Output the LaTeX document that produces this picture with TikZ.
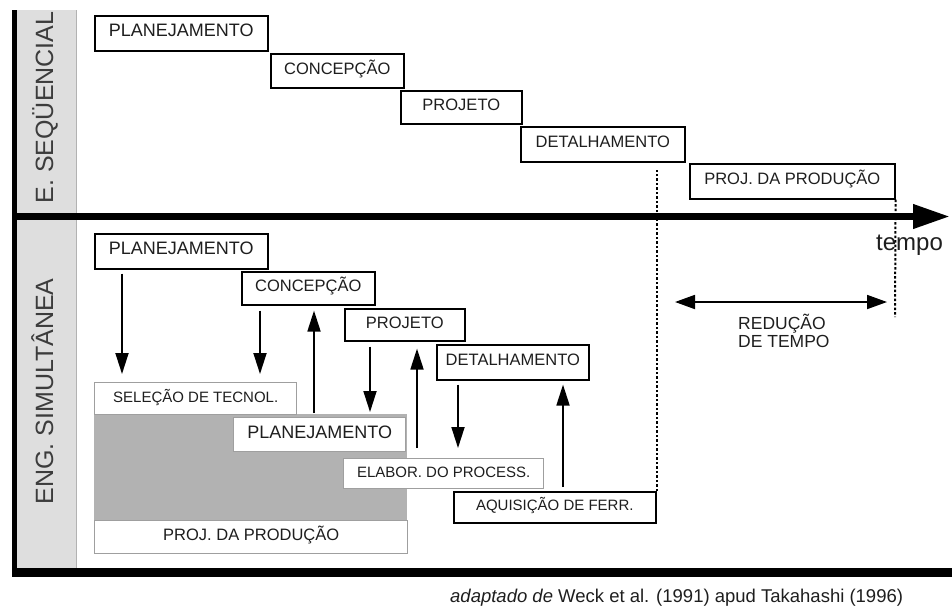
\documentclass[tikz,border=0pt]{standalone}
\usepackage{fontspec}
\setmainfont{Liberation Sans}
\usepackage{xcolor}
\usetikzlibrary{arrows.meta,positioning}
\definecolor{labelgray} {RGB}{222,222,222}
\definecolor{regiongray}{RGB}{178,178,178}
\definecolor{textdark}  {RGB}{30,30,30}
\definecolor{labeltext} {RGB}{60,60,60}

\begin{document}
\begin{tikzpicture}[
  x=1pt, y=-1pt,
  box/.style    ={draw=black, line width=1.6pt, fill=white, anchor=north west,
                  inner sep=0pt, text height=0.72em, text depth=0pt, text=textdark,
                  font=\fontsize{16.5}{18}\selectfont},
  bigbox/.style ={box, font=\fontsize{18}{20}\selectfont},
  softbox/.style={box, draw=gray!75, line width=1.4pt},
  smallfont/.style={font=\fontsize{15}{17}\selectfont},
  phase/.style  ={rotate=90, anchor=base, inner sep=0pt, text=labeltext,
                  font=\fontsize{25}{27}\selectfont},
  flow/.style   ={line width=1.8pt, -{Triangle[length=21pt,width=13pt]}},
  dotline/.style={line width=2pt, dash pattern=on 2.5pt off 2pt},
]
\useasboundingbox (0,0) rectangle (952,606);

%-- label columns and frame
\fill[labelgray] (17,10) rectangle (76,213);
\fill[labelgray] (17,220) rectangle (76,568);
\draw[gray!60, line width=1pt] (76,10) -- (76,213);
\draw[gray!60, line width=1pt] (76,220) -- (76,568);
\draw[line width=5pt] (14.5,10) -- (14.5,577);
\draw[line width=9pt] (12,572.5) -- (952,572.5);

\node[phase] (lblSeq) at (53,107.5) {E. SEQÜENCIAL};
\node[phase] (lblSim) at (53,391.5) {ENG. SIMULTÂNEA};

%-- time axis
\coordinate (axStart) at (12,216.5);
\coordinate (axEnd)   at (950,216.5);
\draw[line width=7pt, -{Triangle[length=37pt,width=23pt]}] (axStart) -- (axEnd);
\node[anchor=base, inner sep=0pt, text=textdark, font=\fontsize{24}{26}\selectfont]
  (tempo) at (909.5,250) {tempo};

%-- TOP: sequential engineering
\node[bigbox, minimum width=173pt, minimum height=35pt] (qPlan) at (94,15)  {PLANEJAMENTO};
\node[box,    minimum width=133pt, minimum height=34pt] (qConc) at (270,53) {CONCEPÇÃO};
\node[box,    minimum width=121pt, minimum height=33pt] (qProj) at (400,90) {PROJETO};
\node[box,    minimum width=164pt, minimum height=35pt] (qDet)  at (520,126) {DETALHAMENTO};
\node[box,    minimum width=205pt, minimum height=35pt] (qProd) at (689,163) {PROJ. DA PRODUÇÃO};

%-- BOTTOM: simultaneous engineering
\fill[regiongray] (94,414) rectangle (407,520);

\node[bigbox, minimum width=173pt, minimum height=35pt] (sPlan) at (94,233)  {PLANEJAMENTO};
\node[box,    minimum width=133pt, minimum height=33pt] (sConc) at (241,271) {CONCEPÇÃO};
\node[box,    minimum width=120pt, minimum height=32pt] (sProj) at (344,308) {PROJETO};
\node[box,    minimum width=152pt, minimum height=35pt] (sDet)  at (436,344) {DETALHAMENTO};

\node[softbox, smallfont, minimum width=202pt, minimum height=32pt] (sSel)   at (94,382)  {SELEÇÃO DE TECNOL.};
\node[softbox, font=\fontsize{18}{20}\selectfont,
               minimum width=172pt, minimum height=34pt] (sPlanB) at (233,417) {PLANEJAMENTO};
\node[softbox, smallfont, minimum width=200pt, minimum height=30pt] (sElab)  at (343,458) {ELABOR. DO PROCESS.};
\node[box,     smallfont, minimum width=202pt, minimum height=31pt] (sAqu)   at (453,491) {AQUISIÇÃO DE FERR.};
\node[softbox, minimum width=313pt, minimum height=33pt] (sProdB) at (94,520) {PROJ. DA PRODUÇÃO};

%-- arrows between the phases
\coordinate (xPlan)  at (122,0);
\coordinate (xConc)  at (260,0);
\coordinate (xConcU) at (314,0);
\coordinate (xProj)  at (370,0);
\coordinate (xProjU) at (417,0);
\coordinate (xDet)   at (458,0);
\coordinate (xDetU)  at (563,0);

\draw[flow, shorten <=4pt, shorten >=8pt]  (sPlan.south -| xPlan)   -- (sSel.north -| xPlan);
\draw[flow, shorten <=5pt, shorten >=8pt]  (sConc.south -| xConc)   -- (sSel.north -| xConc);
\draw[flow, shorten <=4pt, shorten >=5pt]  (sPlanB.north -| xConcU) -- (sConc.south -| xConcU);
\draw[flow, shorten <=5pt, shorten >=5pt]  (sProj.south -| xProj)   -- (sPlanB.north -| xProj);
\draw[flow, shorten <=10pt, shorten >=7pt] (sElab.north -| xProjU)  -- (sProj.south -| xProjU);
\draw[flow, shorten <=4pt, shorten >=10pt] (sDet.south -| xDet)     -- (sElab.north -| xDet);
\draw[flow, shorten <=4pt, shorten >=4pt]  (sAqu.north -| xDetU)    -- (sDet.south -| xDetU);

%-- time reduction
\coordinate (redEnd) at (895,317);
\coordinate (redL)   at (675,302);
\coordinate (redR)   at (887,302);
\draw[dotline, shorten >=7pt] (sAqu.north east) -- (sAqu.north east |- qDet.south);
\draw[dotline] (qProd.south east) -- (redEnd);
\draw[line width=1.8pt, {Triangle[length=20pt,width=14pt]}-{Triangle[length=20pt,width=14pt]}]
  (redL) -- (redR);
\node[anchor=base west, inner sep=0pt, align=left, text=textdark,
      font=\fontsize{17.5}{18}\selectfont] (redText) at (738,347) {REDUÇÃO\\DE TEMPO};

%-- source
\node[anchor=base west, inner sep=0pt, text=textdark, font=\fontsize{18.5}{21}\selectfont]
  (source) at (450,602) {\textit{adaptado de} Weck et al. (1991) apud Takahashi (1996)};

\end{tikzpicture}
\end{document}
